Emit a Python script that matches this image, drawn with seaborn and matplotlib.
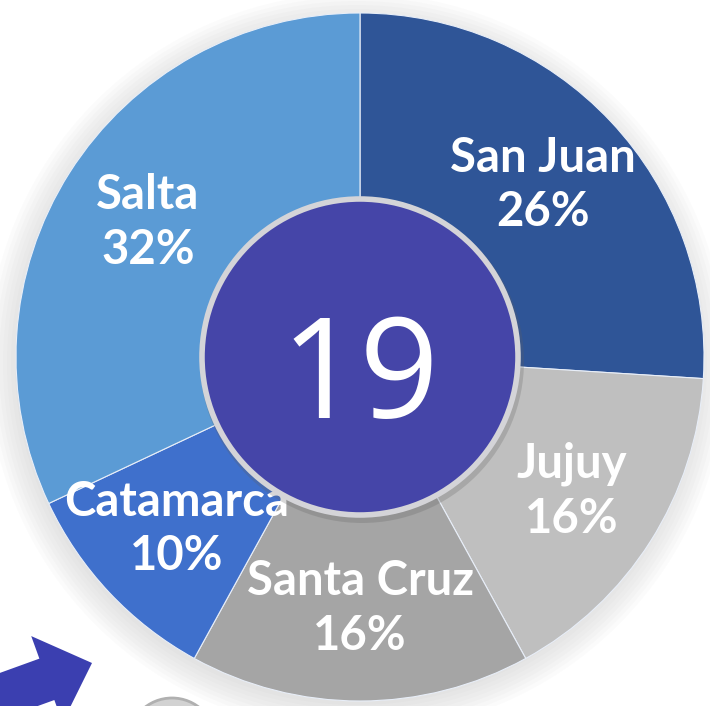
import matplotlib
matplotlib.use('Agg')
import matplotlib.pyplot as plt
import seaborn as sns
from matplotlib.patches import Circle, FancyArrow

sns.set_theme(style='white')
plt.rcParams['font.family'] = ['Lato', 'DejaVu Sans']

# data
provinces = ['San Juan', 'Jujuy', 'Santa Cruz', 'Catamarca', 'Salta']
shares = [26, 16, 16, 10, 32]
colors = ['#2f5597', '#bfbfbf', '#a5a5a5', '#3f70cc', '#5b9bd5']
total = '19'

fig = plt.figure(figsize=(7.10, 7.06), dpi=100)
ax = fig.add_axes([0, 0, 1, 1])

cx, cy, R = 360, 349, 344

# soft shadow around the ring
for i in range(8):
    ax.add_patch(Circle((cx - 3, cy - 6), R + 26 - i * 4, color='#707070', alpha=0.025, lw=0, zorder=0))

labels = [f'{p}\n{s}%' for p, s in zip(provinces, shares)]
wedges, texts = ax.pie(shares, labels=labels, colors=colors, startangle=90,
                       counterclock=False, center=(cx, cy), radius=R,
                       labeldistance=0.73, frame=True,
                       wedgeprops=dict(linewidth=0.8, edgecolor='#e8eef8'),
                       textprops=dict(color='white', fontsize=34, fontweight='bold',
                                      linespacing=1.3))
for t in texts:
    t.set_ha('center')
    t.set_va('center')
    t.set_multialignment('center')
ax.set_xlim(0, 710)
ax.set_ylim(0, 706)
ax.set_aspect('equal')
ax.axis('off')

# center disc
ax.add_patch(Circle((cx + 2, cy - 4), 162, color='#606060', alpha=0.25, lw=0, zorder=3))
ax.add_patch(Circle((cx, cy), 158, facecolor='#4545a8', edgecolor='#d4d4d8', lw=4, zorder=4))
ax.text(cx, cy - 8, total, color='white', fontsize=100, ha='center', va='center_baseline',
        family=['Open Sans', 'DejaVu Sans'], zorder=5)

# decoration at the bottom left
ax.add_patch(FancyArrow(-96, -25, 188, 68, width=44, head_width=92, head_length=48,
                        length_includes_head=True, color='#3b3fb0', lw=0, zorder=6))
ax.add_patch(Circle((172, -36), 44, facecolor='#d2d2d2', edgecolor='#b0b0b0', lw=2, zorder=6))

fig.savefig('out.png', dpi=100)
